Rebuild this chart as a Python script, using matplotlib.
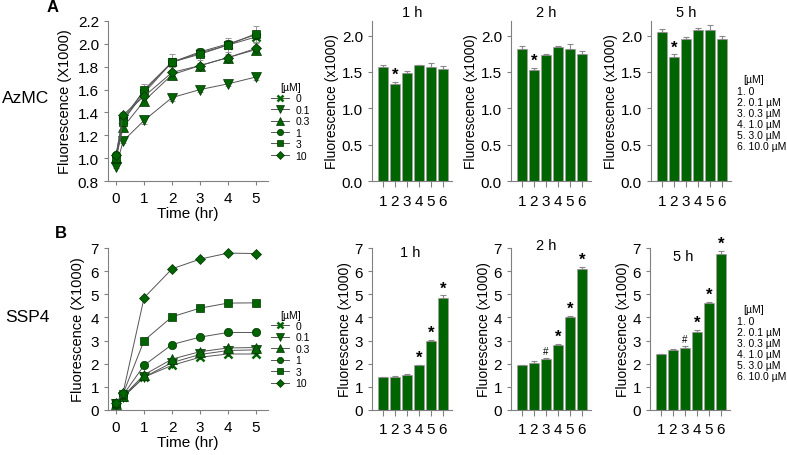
import matplotlib.pyplot as plt
import numpy as np
from matplotlib.transforms import blended_transform_factory

plt.rcParams['font.family'] = ['Liberation Sans', 'DejaVu Sans']

# ---- data ----
times = [0, 0.25, 1, 2, 3, 4, 5]
conc = ['0', '0.1', '0.3', '1', '3', '10']
markers = ['x', 'v', '^', 'o', 's', 'D']
bar_x = [1, 2, 3, 4, 5, 6]
bar_legend = ['1. 0', '2. 0.1 µM', '3. 0.3 µM', '4. 1.0 µM', '5. 3.0 µM', '6. 10.0 µM']

# AzMC time course, one row per concentration
azmc_lines = [
    [1.00, 1.33, 1.57, 1.84, 1.92, 1.99, 2.06],
    [0.92, 1.15, 1.33, 1.53, 1.60, 1.65, 1.71],
    [1.00, 1.27, 1.50, 1.73, 1.81, 1.88, 1.95],
    [1.03, 1.35, 1.59, 1.84, 1.93, 2.00, 2.08],
    [1.00, 1.32, 1.60, 1.84, 1.91, 1.99, 2.09],
    [1.03, 1.38, 1.54, 1.75, 1.81, 1.88, 1.96],
]
azmc_line_err = [
    [0.01, 0.02, 0.03, 0.04, 0.03, 0.03, 0.04],
    [0.01, 0.02, 0.03, 0.03, 0.02, 0.02, 0.03],
    [0.01, 0.02, 0.02, 0.02, 0.02, 0.02, 0.03],
    [0.01, 0.02, 0.01, 0.02, 0.02, 0.03, 0.03],
    [0.01, 0.02, 0.05, 0.07, 0.05, 0.06, 0.07],
    [0.01, 0.02, 0.04, 0.05, 0.02, 0.03, 0.05],
]

# SSP4 time course
ssp4_lines = [
    [0.28, 0.55, 1.42, 1.93, 2.28, 2.42, 2.42],
    [0.28, 0.58, 1.42, 2.05, 2.40, 2.57, 2.60],
    [0.28, 0.60, 1.52, 2.20, 2.52, 2.68, 2.70],
    [0.28, 0.65, 1.93, 2.83, 3.15, 3.35, 3.35],
    [0.30, 0.70, 3.00, 4.03, 4.40, 4.62, 4.63],
    [0.30, 0.75, 4.85, 6.10, 6.52, 6.78, 6.76],
]

# bar panels
azmc_1h = [1.57, 1.33, 1.49, 1.59, 1.57, 1.54]
azmc_1h_err = [0.03, 0.03, 0.02, 0.01, 0.05, 0.04]
azmc_2h = [1.81, 1.53, 1.73, 1.84, 1.82, 1.74]
azmc_2h_err = [0.04, 0.03, 0.02, 0.02, 0.07, 0.05]
azmc_5h = [2.05, 1.71, 1.95, 2.08, 2.08, 1.95]
azmc_5h_err = [0.04, 0.03, 0.03, 0.03, 0.07, 0.05]
azmc_marks = ['', '*', '', '', '', '']

ssp4_1h = [1.42, 1.42, 1.52, 1.93, 3.00, 4.85]
ssp4_1h_err = [0.02, 0.04, 0.02, 0.03, 0.03, 0.10]
ssp4_2h = [1.93, 2.05, 2.20, 2.83, 4.03, 6.10]
ssp4_2h_err = [0.02, 0.06, 0.03, 0.04, 0.03, 0.10]
ssp4_5h = [2.42, 2.60, 2.70, 3.35, 4.62, 6.75]
ssp4_5h_err = [0.02, 0.05, 0.05, 0.10, 0.05, 0.12]
ssp4_1h_marks = ['', '', '', '*', '*', '*']
ssp4_marks = ['', '', '#', '*', '*', '*']

W, H = 787, 456
GREEN = '#006400'
AXC = '#808080'


def rect(x0, y0, x1, y1):
    return [x0 / W, 1 - y1 / H, (x1 - x0) / W, (y1 - y0) / H]


def style(ax):
    for s in ['top', 'right']:
        ax.spines[s].set_visible(False)
    for s in ['left', 'bottom']:
        ax.spines[s].set_color(AXC)
        ax.spines[s].set_linewidth(0.8)
    ax.tick_params(direction='out', length=3, color=AXC, width=0.8)


fig = plt.figure(figsize=(W / 100, H / 100), dpi=100)


def line_panel(y0, y1, data, errs, ylim, yticks, fmt):
    ax = fig.add_axes(rect(108, y0, 268, y1))
    style(ax)
    handles = []
    for i in range(len(data)):
        ms = 6
        if markers[i] in ['v', '^']:
            ms = 7
        if markers[i] == 'D':
            ms = 5.5
        if errs is not None:
            ax.errorbar(times, data[i], yerr=errs[i], fmt='none', ecolor='#999999',
                        elinewidth=0.7, capsize=2, capthick=0.7, zorder=1)
        h, = ax.plot(times, data[i], color='#555555', lw=0.7, marker=markers[i], ms=ms,
                     mfc=GREEN, mec='#003300' if markers[i] != 'x' else GREEN,
                     mew=0.5 if markers[i] != 'x' else 1.8, zorder=2 + i)
        handles.append(h)
    ax.set_xlim(-0.29, 5.43)
    ax.set_ylim(*ylim)
    ax.set_xticks([0, 1, 2, 3, 4, 5])
    ax.set_yticks(yticks)
    ax.set_yticklabels([fmt % v for v in yticks])
    ax.tick_params(axis='both', labelsize=11)
    ax.tick_params(axis='x', pad=4)
    ax.set_xlabel('Time (hr)', fontsize=11, labelpad=1)
    ax.set_ylabel('Fluorescence (X1000)', fontsize=10.5, labelpad=4)
    ax.legend(handles, conc, title='[µM]', loc='upper left', bbox_to_anchor=(1.02, 0.62),
              frameon=False, fontsize=7.5, title_fontsize=7.5, handlelength=1.7,
              handletextpad=0.6, labelspacing=0.14, markerscale=0.75,
              borderaxespad=0, borderpad=0)
    return ax


def bar_panel(x0, y0, y1, vals, err, marks, ylim, yticks, fmt, title, tx, ty, mark_size):
    ax = fig.add_axes(rect(x0, y0, x0 + 80, y1))
    style(ax)
    ax.bar(bar_x, vals, width=0.87, color=GREEN, edgecolor='#a0a0a0', linewidth=0.6, zorder=2)
    ax.errorbar(bar_x, vals, yerr=[np.zeros(len(err)), err], fmt='none', ecolor='#8a8a8a',
                elinewidth=0.8, capsize=2.2, capthick=0.8, zorder=3)
    for x, v, e, m in zip(bar_x, vals, err, marks):
        if m == '*':
            ax.annotate('*', (x, v + e), xytext=(0, 0), textcoords='offset points',
                        ha='center', va='bottom', fontsize=mark_size, fontweight='bold')
        elif m == '#':
            ax.annotate('#', (x, v + e), xytext=(0, 1.5), textcoords='offset points',
                        ha='center', va='bottom', fontsize=7)
    ax.set_xlim(0.1, 6.75)
    ax.set_ylim(*ylim)
    ax.set_xticks(bar_x)
    ax.set_yticks(yticks)
    ax.set_yticklabels([fmt % v for v in yticks])
    ax.tick_params(axis='both', labelsize=11)
    ax.tick_params(axis='x', pad=5, length=4)
    ax.set_ylabel('Fluorescence (x1000)', fontsize=10, labelpad=2)
    tr = blended_transform_factory(ax.transData, ax.transAxes)
    ax.text(tx, ty, title, transform=tr, ha='center', va='center', fontsize=10.5)
    return ax


# ---- row A ----
line_panel(22, 182, azmc_lines, azmc_line_err, (0.8, 2.2),
           [0.8, 1.0, 1.2, 1.4, 1.6, 1.8, 2.0, 2.2], '%.1f')
azt = [0.0, 0.5, 1.0, 1.5, 2.0]
bar_panel(372, 22, 182, azmc_1h, azmc_1h_err, azmc_marks, (0, 2.2), azt, '%.1f', '1 h', 3.4, 1.055, 12)
bar_panel(511, 22, 182, azmc_2h, azmc_2h_err, azmc_marks, (0, 2.2), azt, '%.1f', '2 h', 3.0, 1.055, 12)
bar_panel(651, 22, 182, azmc_5h, azmc_5h_err, azmc_marks, (0, 2.2), azt, '%.1f', '5 h', 3.05, 1.055, 12)

# ---- row B ----
line_panel(249, 411, ssp4_lines, None, (0, 7), [0, 1, 2, 3, 4, 5, 6, 7], '%d')
bt = [0, 1, 2, 3, 4, 5, 6, 7]
bar_panel(372, 249, 411, ssp4_1h, ssp4_1h_err, ssp4_1h_marks, (0, 7), bt, '%d', '1 h', 3.3, 0.975, 12)
bar_panel(511, 249, 411, ssp4_2h, ssp4_2h_err, ssp4_marks, (0, 7), bt, '%d', '2 h', 3.0, 1.02, 12)
bar_panel(650, 249, 411, ssp4_5h, ssp4_5h_err, ssp4_marks, (0, 7), bt, '%d', '5 h', 2.9, 0.95, 12)

# right-hand keys
for ytop in [80, 310]:
    fig.text(743 / W, 1 - ytop / H, '[µM]', fontsize=7.5, ha='left', va='center')
    fig.text(737 / W, 1 - (ytop + 7) / H, '\n'.join(bar_legend), fontsize=7.5,
             ha='left', va='top', linespacing=1.13)

# row labels
fig.text(47 / W, 1 - 8 / H, 'A', fontsize=12, fontweight='bold', ha='left', va='center')
fig.text(55 / W, 1 - 234 / H, 'B', fontsize=12, fontweight='bold', ha='left', va='center')
fig.text(2 / W, 1 - 99 / H, 'AzMC', fontsize=12.5, ha='left', va='center')
fig.text(5 / W, 1 - 318 / H, 'SSP4', fontsize=12.5, ha='left', va='center')

plt.savefig('out.png', dpi=100)
